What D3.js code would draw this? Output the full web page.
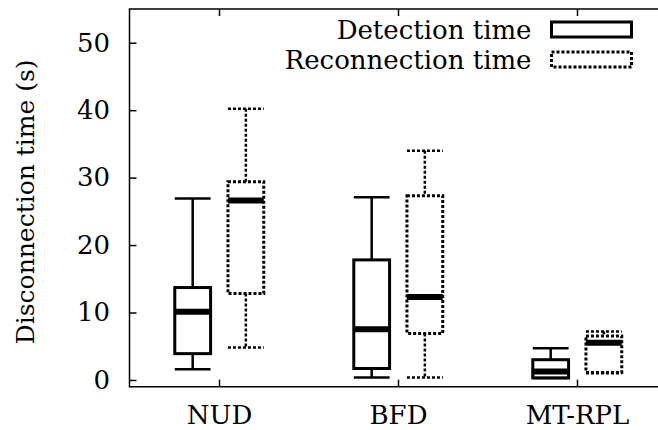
<!DOCTYPE html>
<html>
<head>
<meta charset="utf-8">
<script src="https://cdn.jsdelivr.net/npm/d3@7"></script>
<style>
  body { margin: 0; background: #fff; }
  svg text { font-family: "DejaVu Serif", "Liberation Serif", serif !important; }
</style>
</head>
<body>
<div id="wrapper"></div>
<script>
const categories = ["NUD", "BFD", "MT-RPL"];
const seriesNames = ["Detection time", "Reconnection time"];
// [whiskerLow, q1, median, q3, whiskerHigh]
const detection = [
  [1.6, 3.9, 10.1, 13.7, 26.9],
  [0.35, 1.7, 7.5, 17.8, 27.1],
  [0.3, 0.3, 1.25, 3.0, 4.7]
];
const reconnection = [
  [4.8, 12.8, 26.6, 29.4, 40.2],
  [0.35, 6.9, 12.3, 27.3, 34.0],
  [1.0, 1.1, 5.5, 6.5, 7.2]
];
const yTicks = [0, 10, 20, 30, 40, 50];

function buildPlot() {
  const dimension = {
    width: 658,
    height: 430,
    margin: { top: 9, left: 129.5, bottom: 43.3, right: -8.5 }
  };

  const svg = d3.select("#wrapper").append("svg")
    .attr("width", dimension.width)
    .attr("height", dimension.height);

  const xScaler = d3.scaleLinear()
    .domain([0.5, 3.5])
    .range([dimension.margin.left, dimension.width - dimension.margin.right]);
  const yScaler = d3.scaleLinear()
    .domain([-1, 55])
    .range([dimension.height - dimension.margin.bottom, dimension.margin.top]);

  const x0 = xScaler.range()[0], x1 = xScaler.range()[1];
  const yb = yScaler(-1), yt = yScaler(55);

  // axes, gnuplot style with inward ticks
  const yAxis = d3.axisLeft(yScaler).tickValues(yTicks).tickSizeInner(-7).tickSizeOuter(0).tickPadding(19.5);
  const gy = svg.append("g").attr("transform", `translate(${x0},0)`).call(yAxis);
  gy.select(".domain").remove();
  gy.selectAll("line").attr("stroke-width", 1.5);
  gy.selectAll("text").style("font-size", "26px");

  const xAxis = d3.axisBottom(xScaler).tickValues([1, 2, 3]).tickFormat((d, i) => categories[i])
    .tickSizeInner(-7).tickSizeOuter(0).tickPadding(18.5);
  const gx = svg.append("g").attr("transform", `translate(0,${yb})`).call(xAxis);
  gx.select(".domain").remove();
  gx.selectAll("line").attr("stroke-width", 1.5);
  gx.selectAll("text").style("font-size", "26px");

  const xTop = d3.axisTop(xScaler).tickValues([1, 2, 3]).tickFormat("").tickSizeInner(-7).tickSizeOuter(0);
  const gt = svg.append("g").attr("transform", `translate(0,${yt})`).call(xTop);
  gt.select(".domain").remove();
  gt.selectAll("line").attr("stroke-width", 1.5);

  // border (right side falls outside the picture)
  svg.append("path")
    .attr("d", `M${x1},${yt}H${x0}V${yb}H${x1}`)
    .attr("fill", "none").attr("stroke", "#000").attr("stroke-width", 1.5);

  svg.append("text")
    .attr("transform", `translate(34,${(yt + yb) / 2 + 4}) rotate(-90)`)
    .attr("text-anchor", "middle")
    .style("font-size", "25px")
    .text("Disconnection time (s)");

  const boxW = 0.2;
  const series = [
    { data: detection, offset: -0.147, dash: null },
    { data: reconnection, offset: 0.15, dash: "3,2" }
  ];

  series.forEach(s => {
    const g = svg.append("g");
    s.data.forEach((v, i) => {
      const cx = xScaler(i + 1 + s.offset);
      const xl = xScaler(i + 1 + s.offset - boxW / 2);
      const xr = xScaler(i + 1 + s.offset + boxW / 2);
      const stroke = (sel, w) => sel.attr("stroke", "#000").attr("stroke-width", w)
        .attr("fill", "none").attr("stroke-dasharray", s.dash);
      // whiskers
      g.append("line").attr("x1", cx).attr("x2", cx).attr("y1", yScaler(v[4])).attr("y2", yScaler(v[3])).call(stroke, 2.5);
      g.append("line").attr("x1", cx).attr("x2", cx).attr("y1", yScaler(v[1])).attr("y2", yScaler(v[0])).call(stroke, 2.5);
      g.append("line").attr("x1", xl).attr("x2", xr).attr("y1", yScaler(v[4])).attr("y2", yScaler(v[4])).call(stroke, 2.5);
      g.append("line").attr("x1", xl).attr("x2", xr).attr("y1", yScaler(v[0])).attr("y2", yScaler(v[0])).call(stroke, 2.5);
      // box
      g.append("rect").attr("x", xl).attr("width", xr - xl)
        .attr("y", yScaler(v[3])).attr("height", yScaler(v[1]) - yScaler(v[3])).call(stroke, 3);
      // median
      g.append("line").attr("x1", xl).attr("x2", xr).attr("y1", yScaler(v[2])).attr("y2", yScaler(v[2]))
        .attr("stroke", "#000").attr("stroke-width", 6);
    });
  });

  // legend
  const legend = svg.append("g");
  seriesNames.forEach((name, i) => {
    const yy = 29.5 + i * 30;
    legend.append("text")
      .attr("x", 531.5).attr("y", yy + 9.5)
      .attr("text-anchor", "end")
      .style("font-size", "26px")
      .text(name);
    legend.append("rect")
      .attr("x", 551.5).attr("y", yy - 7.5).attr("width", 80).attr("height", 15)
      .attr("fill", "none").attr("stroke", "#000").attr("stroke-width", 3)
      .attr("stroke-dasharray", series[i].dash);
  });
}

buildPlot();
</script>
</body>
</html>
